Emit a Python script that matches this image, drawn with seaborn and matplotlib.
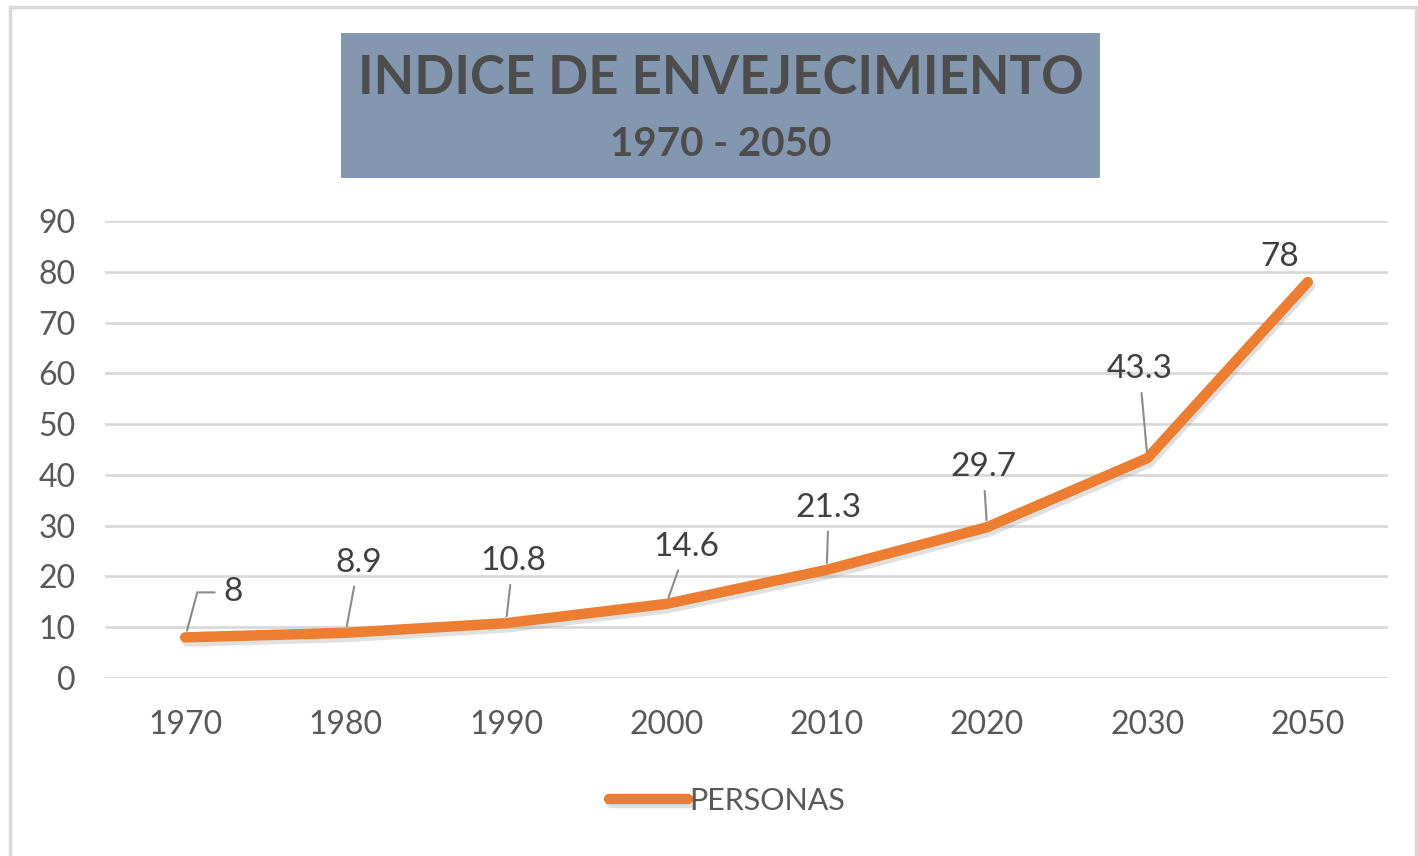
import matplotlib
matplotlib.use("Agg")
import matplotlib.pyplot as plt
import matplotlib.patheffects as pe
from matplotlib.patches import Rectangle
import seaborn as sns
import pandas as pd

# ---- data ----
years = ["1970", "1980", "1990", "2000", "2010", "2020", "2030", "2050"]
personas = [8, 8.9, 10.8, 14.6, 21.3, 29.7, 43.3, 78]
value_labels = ["8", "8.9", "10.8", "14.6", "21.3", "29.7", "43.3", "78"]
y_ticks = [0, 10, 20, 30, 40, 50, 60, 70, 80, 90]
title_main = "INDICE DE ENVEJECIMIENTO"
title_sub = "1970 - 2050"
series_name = "PERSONAS"

# ---- layout (pixel offsets of data labels, not data) ----
label_offsets = [(48, 45), (13, 70), (7, 62), (20, 57), (2, 62), (-4, 60), (-8, 89), (-28, 25)]
has_leader = [True, True, True, True, True, True, True, False]

sns.set_theme(style="white")
plt.rcParams["font.family"] = ["Lato", "DejaVu Sans"]

W, H = 1418, 856
fig = plt.figure(figsize=(W / 100, H / 100), dpi=100)
fig.patch.set_facecolor("white")

ax = fig.add_axes([105 / W, 1 - 678 / H, (1388 - 105) / W, (678 - 221) / H])

df = pd.DataFrame({"year": years, "value": personas})
df["pos"] = range(len(df))

orange = "#ED7D31"
sns.lineplot(data=df, x="pos", y="value", ax=ax, color=orange, linewidth=7.5,
             label=series_name, solid_capstyle="round", solid_joinstyle="round",
             zorder=5)
line = ax.get_lines()[0]
line.set_path_effects([pe.SimpleLineShadow(offset=(1.5, -3), shadow_color="#999999", alpha=0.3),
                       pe.Normal()])

ax.set_xlim(-0.5, len(years) - 0.5)
ax.set_ylim(0, 90)
ax.set_yticks(y_ticks)
ax.set_xticks(range(len(years)))
ax.set_xticklabels(years)
ax.set_xlabel("")
ax.set_ylabel("")
for s in ax.spines.values():
    s.set_visible(False)
ax.grid(axis="y", color="#D9D9D9", linewidth=2)
ax.grid(axis="x", visible=False)
ax.set_axisbelow(True)
ax.tick_params(axis="both", length=0, labelsize=23, labelcolor="#595959")
ax.tick_params(axis="y", pad=21)
ax.tick_params(axis="x", pad=23)

# data labels
for i, (v, txt) in enumerate(zip(personas, value_labels)):
    dx, dy = label_offsets[i]
    kw = {}
    if has_leader[i]:
        cs = "angle,angleA=0,angleB=75,rad=0" if i == 0 else "arc3"
        kw["arrowprops"] = dict(arrowstyle="-", color="#8C8C8C", lw=1.5,
                                shrinkA=4, shrinkB=5, connectionstyle=cs,
                                relpos=(0, 0.5) if i == 0 else (0.5, 0.5))
    ax.annotate(txt, xy=(i, v), xytext=(dx, dy), textcoords="offset pixels",
                ha="center", va="center", fontsize=24, color="#404040",
                zorder=6, **kw)

# legend
leg = ax.legend(loc="center", bbox_to_anchor=((727 - 105) / (1388 - 105), -(801 - 678) / (678 - 221)),
                frameon=False, fontsize=22, handlelength=2.6, handletextpad=0.05,
                labelcolor="#595959")
for h in leg.get_lines():
    h.set_linewidth(7.5)
    h.set_solid_capstyle("round")

# title box
fig.patches.append(Rectangle((341 / W, 1 - 178 / H), (1100 - 341) / W, (178 - 33) / H,
                             transform=fig.transFigure, facecolor="#8497B0",
                             edgecolor="none", zorder=0))
fig.text(721 / W, 1 - 79 / H, title_main, ha="center", va="center",
         fontsize=38, fontweight="bold", color="#4D4D4D")
fig.text(721 / W, 1 - 145 / H, title_sub, ha="center", va="center",
         fontsize=29, fontweight="bold", color="#4D4D4D")

# chart area border
fig.patches.append(Rectangle((10 / W, -0.01), (1416 - 10) / W, 1 - 7 / H + 0.01,
                             transform=fig.transFigure, facecolor="none",
                             edgecolor="#D9D9D9", linewidth=2.5, zorder=0))

fig.savefig("out.png", dpi=100)
